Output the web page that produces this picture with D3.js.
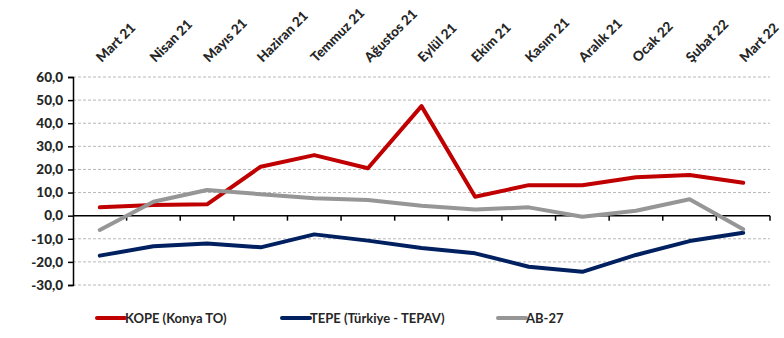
<!DOCTYPE html>
<html>
<head>
<meta charset="utf-8">
<script src="https://cdn.jsdelivr.net/npm/d3@7"></script>
<style>
  html, body { margin: 0; padding: 0; background: #fff; }
  svg { display: block; }
  text { font-family: Lato, "Open Sans", sans-serif; }
</style>
</head>
<body>
<svg id="chart" width="784" height="338"></svg>
<script>
// Monthly index series (Mart 2021 – Mart 2022)
const months = ["Mart 21", "Nisan 21", "Mayıs 21", "Haziran 21", "Temmuz 21", "Ağustos 21",
  "Eylül 21", "Ekim 21", "Kasım 21", "Aralık 21", "Ocak 22", "Şubat 22", "Mart 22"];
const kope = [3.6, 4.6, 4.9, 21.2, 26.2, 20.5, 47.4, 8.2, 13.2, 13.2, 16.6, 17.6, 14.2];
const tepe = [-17.3, -13.2, -12.0, -13.7, -8.1, -10.8, -14.0, -16.3, -22.1, -24.3, -17.0, -11.0, -7.4];
const ab27 = [-6.2, 6.0, 11.1, 9.3, 7.5, 6.8, 4.3, 2.7, 3.6, -0.5, 2.1, 7.1, -5.9];
const yTicks = [60, 50, 40, 30, 20, 10, 0, -10, -20, -30];

const seriesList = [
  { name: "KOPE (Konya TO)", values: kope, color: "#c00000" },
  { name: "TEPE (Türkiye - TEPAV)", values: tepe, color: "#002060" },
  { name: "AB-27", values: ab27, color: "#969696" }
];

const svg = d3.select("#chart");
const plotLeft = 73, plotRight = 770, plotTop = 77, plotBottom = 285;

const x = d3.scaleBand().domain(months).range([plotLeft, plotRight]);
const y = d3.scaleLinear().domain([-30, 60]).range([plotBottom, plotTop]);
const fmt = v => d3.format(".1f")(v).replace(".", ",").replace("−", "-");

// dashed horizontal gridlines
svg.append("g").selectAll("line")
  .data(yTicks.filter(v => v !== 0))
  .join("line")
  .attr("x1", plotLeft).attr("x2", plotRight)
  .attr("y1", d => y(d)).attr("y2", d => y(d))
  .attr("stroke", "#b8b8b8").attr("stroke-width", 1)
  .attr("stroke-dasharray", "3,2");

// y axis
const yAxis = svg.append("g")
  .attr("transform", `translate(${plotLeft},0)`)
  .call(d3.axisLeft(y).tickValues(yTicks).tickSize(5).tickPadding(5).tickFormat(fmt));
yAxis.select(".domain").attr("stroke", "#000").attr("stroke-width", 1.5);
yAxis.selectAll(".tick line").attr("stroke", "#000").attr("stroke-width", 1.5);
yAxis.selectAll(".tick text")
  .attr("font-size", 13.5).attr("font-weight", 900).attr("fill", "#262626");

// zero line with category boundary ticks
svg.append("line")
  .attr("x1", plotLeft).attr("x2", plotRight)
  .attr("y1", y(0)).attr("y2", y(0))
  .attr("stroke", "#000").attr("stroke-width", 1.5);
const bounds = months.map(m => x(m) + x.bandwidth());
svg.append("g").selectAll("line")
  .data(bounds)
  .join("line")
  .attr("x1", d => d).attr("x2", d => d)
  .attr("y1", y(0)).attr("y2", y(0) + 5)
  .attr("stroke", "#000").attr("stroke-width", 1.5);

// rotated month labels at the top
svg.append("g").selectAll("text")
  .data(months)
  .join("text")
  .attr("transform", d => `translate(${x(d) + x.bandwidth() / 2 + 2},63) rotate(-45)`)
  .attr("font-size", 13.5).attr("font-weight", 900).attr("fill", "#262626")
  .text(d => d);

// series lines
const line = d3.line()
  .x((d, i) => x(months[i]) + x.bandwidth() / 2)
  .y(d => y(d));
svg.append("g").selectAll("path")
  .data(seriesList)
  .join("path")
  .attr("d", s => line(s.values))
  .attr("fill", "none")
  .attr("stroke", s => s.color)
  .attr("stroke-width", 4)
  .attr("stroke-linejoin", "round")
  .attr("stroke-linecap", "round");

// legend
const legendX = [97, 282, 498];
const lg = svg.append("g").selectAll("g")
  .data(seriesList)
  .join("g")
  .attr("transform", (s, i) => `translate(${legendX[i]},318)`);
lg.append("line")
  .attr("x1", 0).attr("x2", 28).attr("y1", 0).attr("y2", 0)
  .attr("stroke", s => s.color).attr("stroke-width", 4)
  .attr("stroke-linecap", "round");
lg.append("text")
  .attr("x", 28).attr("y", 5)
  .attr("font-size", 13).attr("font-weight", 700).attr("fill", "#262626")
  .text(s => s.name);
</script>
</body>
</html>
